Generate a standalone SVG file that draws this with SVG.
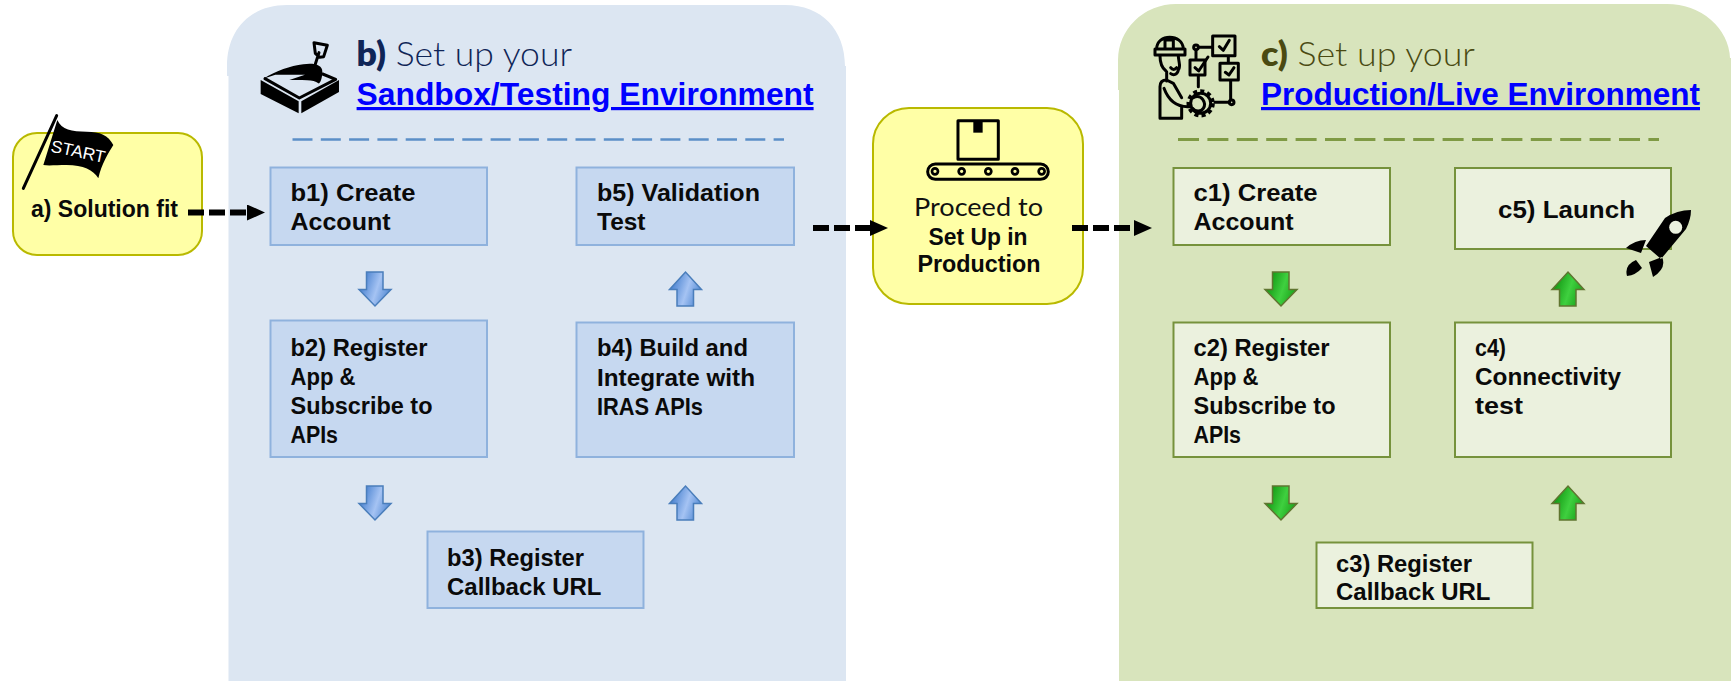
<svg xmlns="http://www.w3.org/2000/svg" width="1731" height="681" viewBox="0 0 1731 681">
<style>
text{font-family:"Liberation Sans",Arial,sans-serif;font-weight:700;font-size:23px;fill:#0a0a0a}
.bx{fill:#c6d8f0;stroke:#8fb2dd;stroke-width:2}
.cx{fill:#ebf1de;stroke:#76923c;stroke-width:2}
.yl{fill:#ffffa6;stroke:#b9b900;stroke-width:2}
.tt{font-family:Lato,"Liberation Sans",sans-serif;font-weight:300;font-size:33px}
.tt tspan{font-weight:800}
.ln{font-size:32px;fill:#0000ff;text-decoration:underline}
.thin{font-family:Lato,"Liberation Sans",sans-serif;font-weight:400;font-size:25px;fill:#111}
.dash{fill:none;stroke:#000;stroke-width:6;stroke-dasharray:16 5;marker-end:url(#tip)}
.ic{fill:none;stroke:#000;stroke-width:9;stroke-linejoin:round;stroke-linecap:round}
.ubl{fill:url(#blue);stroke:#4a7ebb;stroke-width:1.500}
.ugr{fill:url(#green);stroke:#5f7530;stroke-width:1.500}
</style>
<defs>
<marker id="tip" markerUnits="userSpaceOnUse" markerWidth="18" markerHeight="16" refX="0" refY="8" orient="auto"><path d="M0,0L18,8L0,16Z" fill="#000"/></marker>
<linearGradient id="blue" x1="0" y1="0" x2="1" y2="0.35"><stop offset="0.2" stop-color="#4f86d2"/><stop offset="0.65" stop-color="#a5c3f3"/><stop offset="1" stop-color="#5f92d8"/></linearGradient>
<linearGradient id="green" x1="0" y1="0" x2="1" y2="0.35"><stop offset="0.2" stop-color="#159a15"/><stop offset="0.65" stop-color="#3fd03f"/><stop offset="1" stop-color="#1fa81f"/></linearGradient>
<path id="dn" d="M-8.500,0H8V17.500H16L0,34L-16,17.500H-8.500Z"/>
<path id="up" d="M-8.500,34H8V17.500H16L0,0L-16,17.500H-8.500Z"/>
</defs>

<g id="panel-b">
<path d="M227,66C227,30 250,5 287,5H785C822,5 845,30 845,66H846V681H228.500V76H227Z" fill="#dce6f2"/>
<g transform="translate(210,0) scale(.3333)">
<path d="M152,240L266,304V340L152,282Z M274,304L387,240V276L274,340Z" fill="#000"/>
<path class="ic" d="M165,236L268,294L377,238L338,222"/>
<path d="M160,236C200,212 240,198 280,193C312,188 338,195 337,215C337,235 330,252 325,250C310,237 280,242 238,240L285,224L196,224Z" fill="#000"/>
<path class="ic" d="M327,158L312,205M312,128L352,136L341,170L329,172L316,160Z"/>
</g>
<text class="tt" x="356.600" y="66" style="fill:#0f2557" textLength="215.400" lengthAdjust="spacingAndGlyphs"><tspan>b)</tspan> Set up your</text>
<text class="ln" x="356.600" y="105" textLength="457" lengthAdjust="spacingAndGlyphs">Sandbox/Testing Environment</text>
<path d="M292.500,139.500H784" fill="none" stroke="#5b8fc7" stroke-width="2.500" stroke-dasharray="20 8.300"/>
</g>

<g id="panel-c">
<path d="M1118,60A58,56 0 0 1 1176,4H1667A63,56 0 0 1 1730,58H1731V681H1119V90H1118Z" fill="#d8e4bc"/>
<g transform="translate(1140,25) scale(.3333)">
<path class="ic" d="M45,90H135V72H45ZM50,72C50,25 128,25 130,72M75,70V45H100V70"/>
<path class="ic" d="M60,92C60,112 65,128 78,138M115,92C115,110 124,125 115,135C112,150 100,152 92,146M92,128C97,135 105,135 110,128M80,140V168M60,280V185Q60,165 80,165L100,175L125,218M60,280H125V245M72,190C85,225 110,248 150,245"/>
<circle class="ic" cx="182" cy="235" r="30"/>
<circle cx="182" cy="235" r="37" fill="none" stroke="#000" stroke-width="11" stroke-dasharray="12 9.500"/>
<path class="ic" d="M160,218C185,205 200,235 190,250C183,262 165,260 158,250"/>
<circle class="ic" cx="168" cy="67" r="7"/>
<circle class="ic" cx="275" cy="232" r="7"/>
<path class="ic" d="M176,67H218M218,33H285V92H218ZM168,75V105M150,105H195V150H150ZM175,150V185M265,92V115M240,115H295V165H240ZM272,165V224M225,232H267"/>
<path class="ic" d="M238,65L250,76L268,46M165,128L176,138L204,96M256,142L267,150L282,128"/>
</g>
<text class="tt" x="1261" y="66" style="fill:#4a4a12" textLength="214" lengthAdjust="spacingAndGlyphs"><tspan>c)</tspan> Set up your</text>
<text class="ln" x="1261" y="105" textLength="439" lengthAdjust="spacingAndGlyphs">Production/Live Environment</text>
<path d="M1178,139.500H1659" fill="none" stroke="#7f9a44" stroke-width="3" stroke-dasharray="21 8.400"/>
</g>

<g id="a">
<rect class="yl" x="13" y="133" width="189" height="122" rx="24"/>
<g transform="translate(0,90) scale(.3333)">
<path d="M70,295L170,77" fill="none" stroke="#000" stroke-width="9" stroke-linecap="round"/>
<path d="M172,90C185,120 215,125 260,125C300,125 325,135 340,165C325,190 305,220 295,265C280,240 250,225 200,225C170,225 145,228 130,225Z" fill="#000"/>
</g>
<text x="51" y="157" transform="rotate(12 77 150)" style="font-size:17px;font-weight:400;fill:#fff" textLength="55" lengthAdjust="spacingAndGlyphs">START</text>
<text x="31" y="217" textLength="147" lengthAdjust="spacingAndGlyphs">a) Solution fit</text>
</g>

<g id="b1"><rect class="bx" x="270.500" y="167.500" width="216.500" height="77.500"/><text x="290.500" y="201" textLength="125" lengthAdjust="spacingAndGlyphs">b1) Create</text><text x="290.500" y="230" textLength="100" lengthAdjust="spacingAndGlyphs">Account</text></g>
<g id="b2"><rect class="bx" x="270.500" y="320.500" width="216.500" height="136.500"/><text x="290.500" y="355.500" textLength="137" lengthAdjust="spacingAndGlyphs">b2) Register</text><text x="290.500" y="384.500" textLength="65" lengthAdjust="spacingAndGlyphs">App &amp;</text><text x="290.500" y="414" textLength="142" lengthAdjust="spacingAndGlyphs">Subscribe to</text><text x="290.500" y="443" textLength="47.500" lengthAdjust="spacingAndGlyphs">APIs</text></g>
<g id="b3"><rect class="bx" x="427.500" y="531.500" width="216" height="76.500"/><text x="447" y="566" textLength="137" lengthAdjust="spacingAndGlyphs">b3) Register</text><text x="447" y="594.500" textLength="154.500" lengthAdjust="spacingAndGlyphs">Callback URL</text></g>
<g id="b4"><rect class="bx" x="576.500" y="322.500" width="217.500" height="134.500"/><text x="597" y="356" textLength="151" lengthAdjust="spacingAndGlyphs">b4) Build and</text><text x="597" y="385.500" textLength="158" lengthAdjust="spacingAndGlyphs">Integrate with</text><text x="597" y="415" textLength="106" lengthAdjust="spacingAndGlyphs">IRAS APIs</text></g>
<g id="b5"><rect class="bx" x="576.500" y="167.500" width="217.500" height="77.500"/><text x="597" y="201" textLength="163" lengthAdjust="spacingAndGlyphs">b5) Validation</text><text x="597" y="230" textLength="48.500" lengthAdjust="spacingAndGlyphs">Test</text></g>

<g id="proceed">
<rect class="yl" x="873" y="108" width="210" height="196" rx="36"/>
<g transform="translate(780,90) scale(.3333)">
<path class="ic" d="M534,92H655V208H534Z"/>
<path d="M580,92H608V128H580Z" fill="#000"/>
<rect class="ic" x="443" y="222" width="362" height="46" rx="23"/>
<g fill="none" stroke="#000" stroke-width="8"><circle cx="465" cy="244" r="9"/><circle cx="545" cy="244" r="9"/><circle cx="625" cy="244" r="9"/><circle cx="705" cy="244" r="9"/><circle cx="785" cy="244" r="9"/></g>
</g>
<text class="thin" x="914" y="216" textLength="129" lengthAdjust="spacingAndGlyphs">Proceed to</text>
<text x="928.500" y="245" textLength="99" lengthAdjust="spacingAndGlyphs">Set Up in</text>
<text x="917.500" y="272" textLength="123" lengthAdjust="spacingAndGlyphs">Production</text>
</g>

<g id="c1"><rect class="cx" x="1173.500" y="168" width="216.500" height="77"/><text x="1193.500" y="201" textLength="124" lengthAdjust="spacingAndGlyphs">c1) Create</text><text x="1193.500" y="230" textLength="100" lengthAdjust="spacingAndGlyphs">Account</text></g>
<g id="c2"><rect class="cx" x="1173.500" y="322.500" width="216.500" height="134.500"/><text x="1193.500" y="355.500" textLength="136" lengthAdjust="spacingAndGlyphs">c2) Register</text><text x="1193.500" y="384.500" textLength="65" lengthAdjust="spacingAndGlyphs">App &amp;</text><text x="1193.500" y="414" textLength="142" lengthAdjust="spacingAndGlyphs">Subscribe to</text><text x="1193.500" y="443" textLength="47.500" lengthAdjust="spacingAndGlyphs">APIs</text></g>
<g id="c3"><rect class="cx" x="1316.500" y="542.500" width="216" height="65.500"/><text x="1336" y="572" textLength="136" lengthAdjust="spacingAndGlyphs">c3) Register</text><text x="1336" y="600" textLength="154.500" lengthAdjust="spacingAndGlyphs">Callback URL</text></g>
<g id="c4"><rect class="cx" x="1455" y="322.500" width="216" height="134.500"/><text x="1475" y="355.500" textLength="31" lengthAdjust="spacingAndGlyphs">c4)</text><text x="1475" y="385" textLength="146" lengthAdjust="spacingAndGlyphs">Connectivity</text><text x="1475" y="414" textLength="48" lengthAdjust="spacingAndGlyphs">test</text></g>
<g id="c5"><rect class="cx" x="1455" y="168" width="216" height="81"/><text x="1498" y="218" textLength="137" lengthAdjust="spacingAndGlyphs">c5) Launch</text>
<path d="M1691,210Q1677,210 1665,218L1646,246L1661,259L1686,229Q1691,219 1691,210ZM1626,248Q1635,240 1646,240L1641,253ZM1649,262L1662,257Q1667,268 1653,277ZM1627,276Q1624,265 1636,260L1642,268Q1636,275 1627,276Z" fill="#000"/>
<circle cx="1675.700" cy="227.300" r="6.500" fill="#ebf1de"/>
</g>

<g id="connectors">
<path class="dash" d="M188,212.500H247"/>
<path class="dash" d="M813,228H870"/>
<path class="dash" d="M1072,228H1134"/>
<use href="#dn" class="ubl" x="375" y="272"/>
<use href="#dn" class="ubl" x="375" y="486"/>
<use href="#up" class="ubl" x="685.500" y="272"/>
<use href="#up" class="ubl" x="685.500" y="486"/>
<use href="#dn" class="ugr" x="1281" y="272"/>
<use href="#dn" class="ugr" x="1281" y="486"/>
<use href="#up" class="ugr" x="1568" y="272"/>
<use href="#up" class="ugr" x="1568" y="486"/>
</g>
</svg>
